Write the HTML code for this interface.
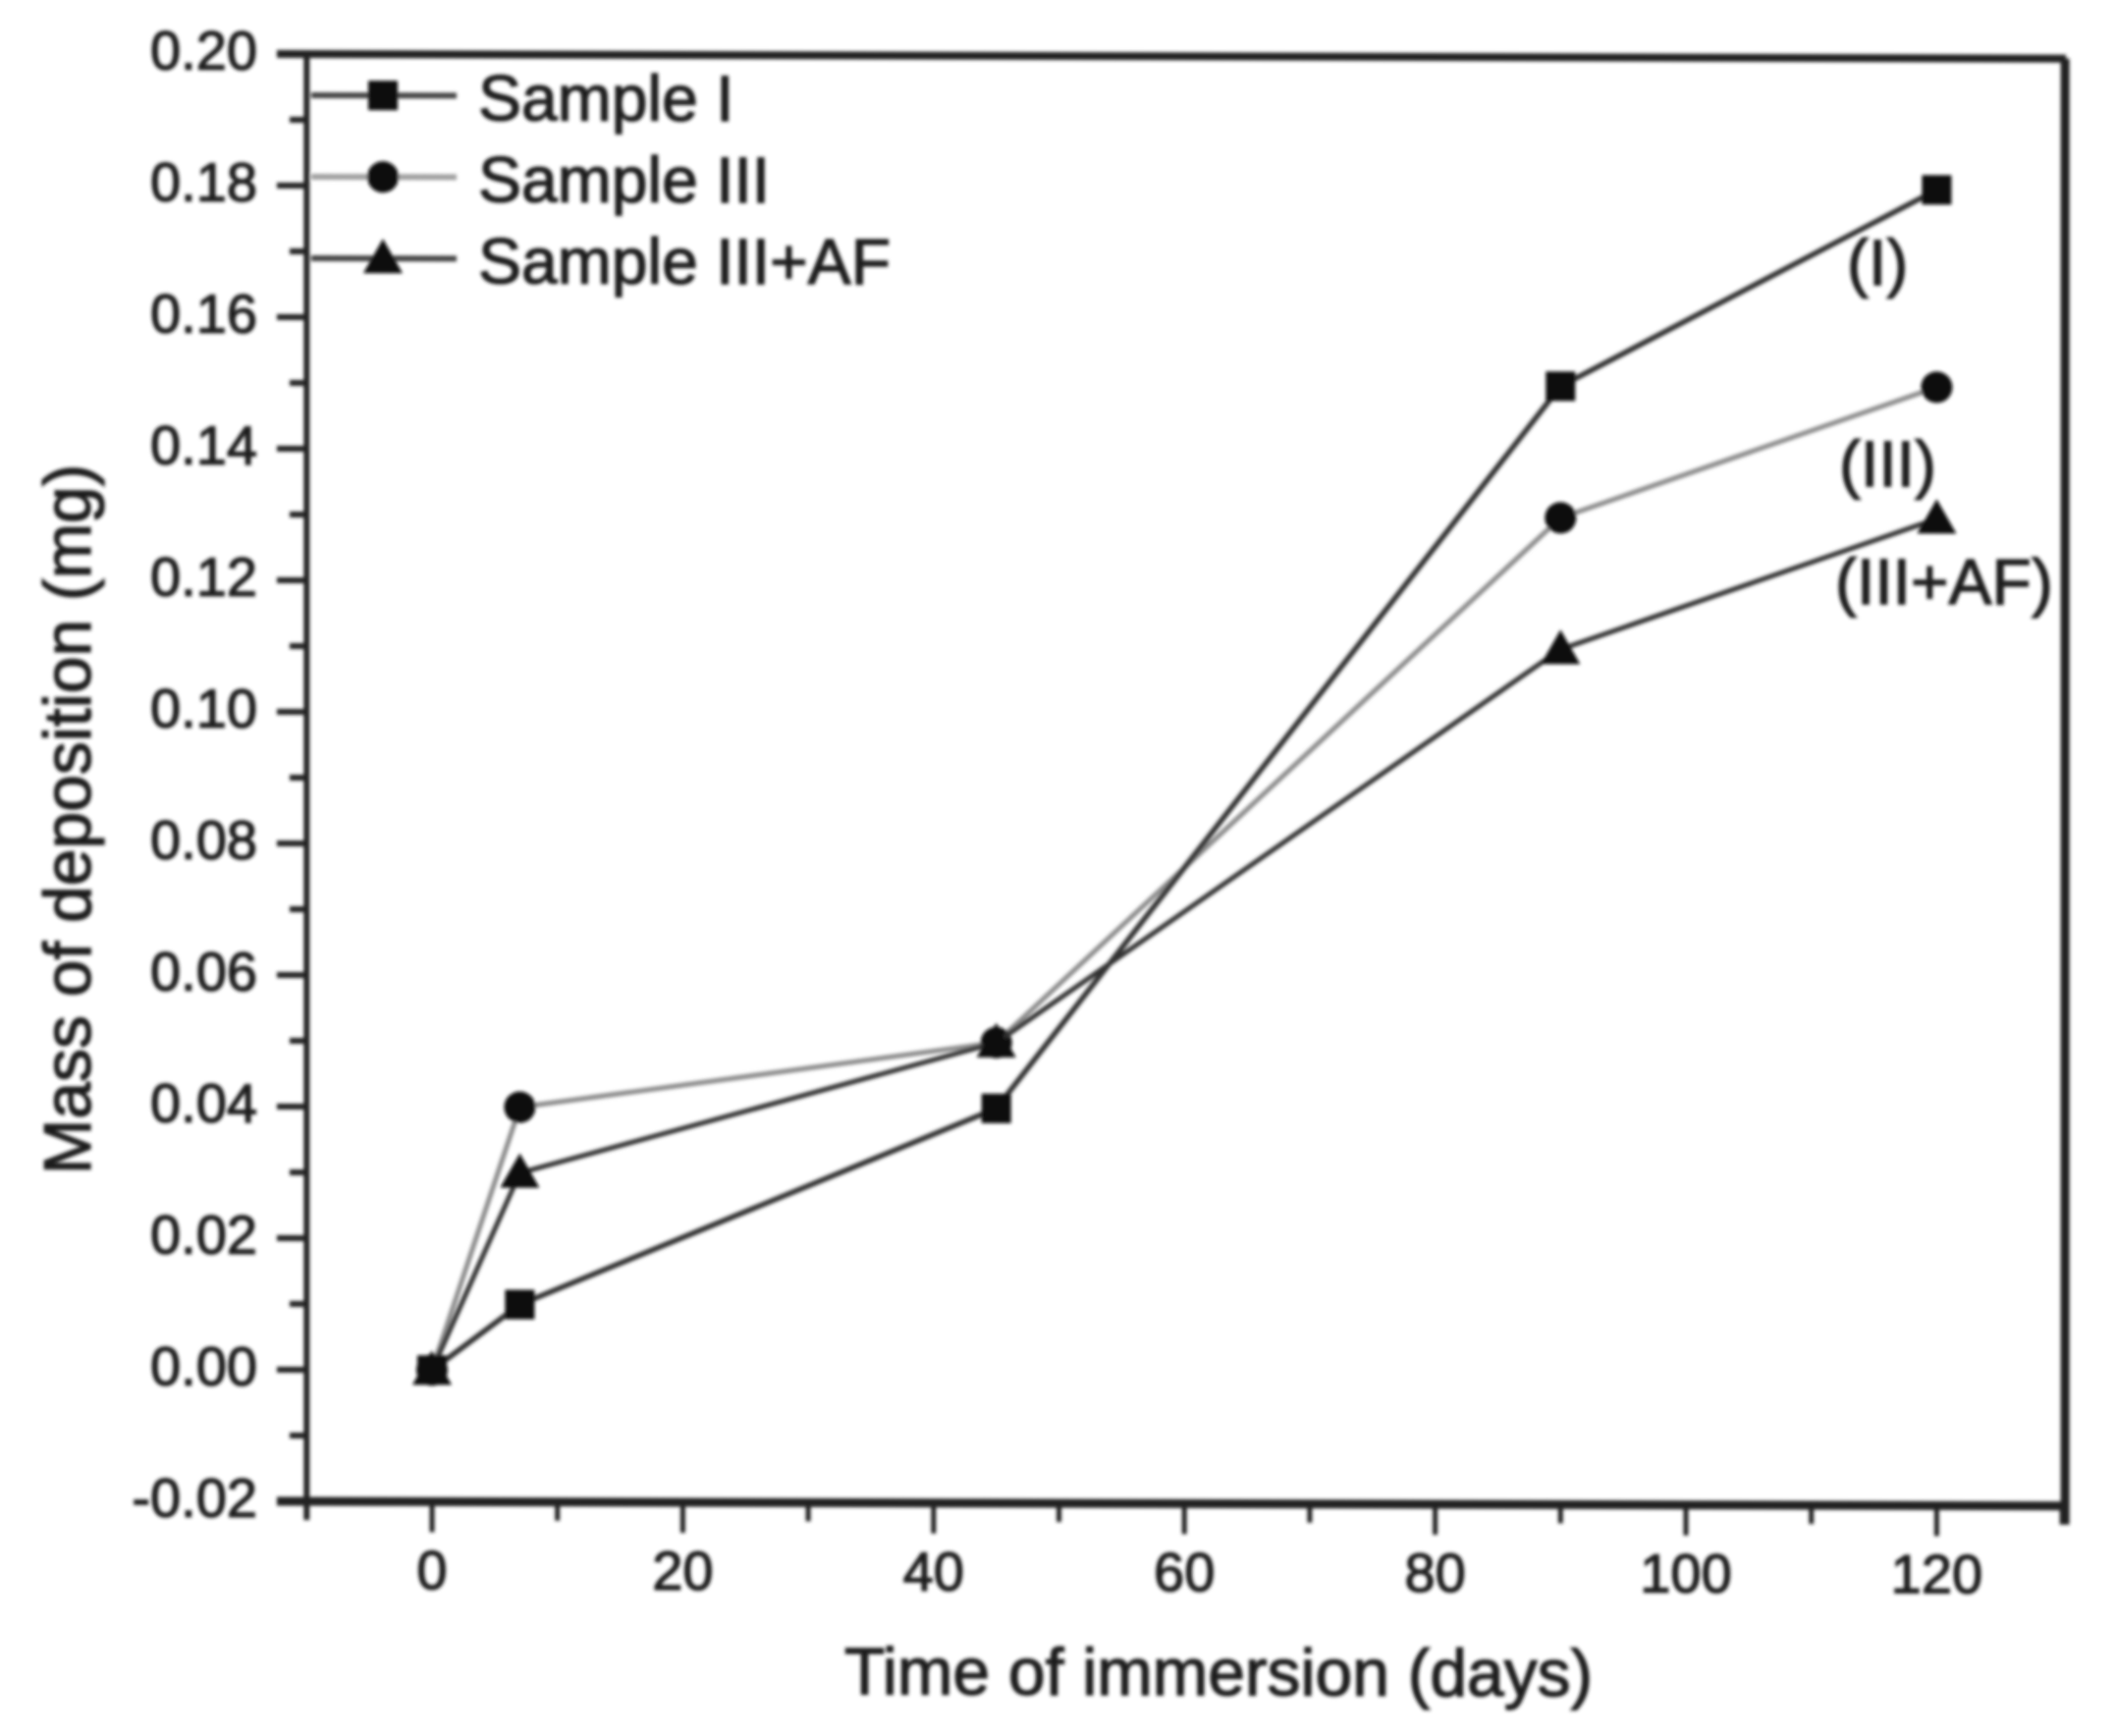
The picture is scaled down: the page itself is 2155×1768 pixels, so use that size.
<!DOCTYPE html>
<html>
<head>
<meta charset="utf-8">
<title>Mass of deposition vs time of immersion</title>
<style>
html,body{margin:0;padding:0;background:#fff;}
svg{display:block;}
text{font-family:"Liberation Sans",Arial,sans-serif;fill:#1a1a1a;stroke:#1a1a1a;stroke-width:1.3px;}
</style>
</head>
<body>
<svg id="chart" xmlns="http://www.w3.org/2000/svg" width="2155" height="1768" viewBox="0 0 2155 1768">
  <defs>
    <filter id="soft" x="-5%" y="-5%" width="110%" height="110%" filterUnits="objectBoundingBox">
      <feGaussianBlur stdDeviation="1.8"/>
    </filter>
  </defs>
  <rect width="2155" height="1768" fill="#fff"/>
  <g id="plot" filter="url(#soft)" transform="translate(0,-0.8) skewY(0.15)"></g>
</svg>
<script>
const days = [0, 7, 45, 90, 120];
const sampleI = [0, 0.01, 0.04, 0.15, 0.18];
const sampleIII = [0, 0.04, 0.05, 0.13, 0.15];
const sampleIIIAF = [0, 0.03, 0.05, 0.11, 0.13];
const xTickValues = [0, 20, 40, 60, 80, 100, 120];
const xMinorValues = [-10, 10, 30, 50, 70, 90, 110, 130];
const yTickValues = [-0.02, 0, 0.02, 0.04, 0.06, 0.08, 0.10, 0.12, 0.14, 0.16, 0.18, 0.20];
const yMinorValues = [-0.01, 0.01, 0.03, 0.05, 0.07, 0.09, 0.11, 0.13, 0.15, 0.17, 0.19];

const NS = 'http://www.w3.org/2000/svg';
const plot = document.getElementById('plot');
const xAxis = v => 440 + 12.77 * v;
const yAxis = v => 1395 - 6700 * v;

function make(tag, attrs, parent) {
  const el = document.createElementNS(NS, tag);
  for (const k in attrs) el.setAttribute(k, attrs[k]);
  (parent || plot).appendChild(el);
  return el;
}
function marker(kind, cx, cy, parent) {
  if (kind === 'square') return make('rect', {x: cx - 15, y: cy - 15, width: 30, height: 30, fill: '#0c0c0c'}, parent);
  if (kind === 'circle') return make('circle', {cx: cx, cy: cy, r: 16, fill: '#0c0c0c'}, parent);
  return make('path', {d: `M${cx} ${cy - 20}L${cx + 20} ${cy + 15}L${cx - 20} ${cy + 15}Z`, fill: '#0c0c0c'}, parent);
}

/* axis frame */
const left = xAxis(-10), right = xAxis(130), top_ = yAxis(0.20), bottom = yAxis(-0.02);
const frame = make('g', {fill: 'none', stroke: '#222', 'stroke-width': 6});


make('line', {x1: 282, y1: top_, x2: right + 4, y2: top_, 'stroke-width': 8}, frame);
make('line', {x1: 282, y1: bottom, x2: right + 4, y2: bottom, 'stroke-width': 9}, frame);
make('line', {x1: left, y1: top_, x2: left, y2: 1548, 'stroke-width': 6}, frame);
make('line', {x1: right + 3, y1: top_, x2: right + 3, y2: 1548, 'stroke-width': 9}, frame);

/* y axis */
yTickValues.forEach(v => {
  const tick = make('line', {x1: 282, y1: yAxis(v), x2: left, y2: yAxis(v), stroke: '#222', 'stroke-width': 6});
  
  
  const label = make('text', {x: 262, y: yAxis(v) + 16, 'text-anchor': 'end', 'font-size': 56});
  
  
  label.textContent = v.toFixed(2);
});
yMinorValues.forEach(v => {
  const tick = make('line', {x1: 295, y1: yAxis(v), x2: left, y2: yAxis(v), stroke: '#222', 'stroke-width': 6});
  
  
});

/* x axis */
xTickValues.forEach(v => {
  const tick = make('line', {x1: xAxis(v), y1: bottom, x2: xAxis(v), y2: 1560, stroke: '#222', 'stroke-width': 5});
  
  
  const label = make('text', {x: xAxis(v), y: 1618, 'text-anchor': 'middle', 'font-size': 56});
  
  
  label.textContent = String(v);
});
xMinorValues.forEach(v => {
  const tick = make('line', {x1: xAxis(v), y1: bottom, x2: xAxis(v), y2: 1548, stroke: '#222', 'stroke-width': 5});
  
  
});

/* series */
function drawSeries(values, kind, stroke, width, name) {
  const g = make('g', {});
  
  
  const pts = values.map((v, i) => xAxis(days[i]) + ',' + yAxis(v)).join(' ');
  make('polyline', {points: pts, fill: 'none', stroke: stroke, 'stroke-width': width}, g);
  values.forEach((v, i) => marker(kind, xAxis(days[i]), yAxis(v), g));
}
drawSeries(sampleIII, 'circle', '#8c8c8c', 5, 'series-sample-iii');
drawSeries(sampleIIIAF, 'triangle', '#333', 5, 'series-sample-iii-af');
drawSeries(sampleI, 'square', '#333', 5.5, 'series-sample-i');

/* legend */
const legendKinds = ['square', 'circle', 'triangle'];
const legendStrokes = ['#444', '#a0a0a0', '#444'];
const legendTexts = ['Sample I', 'Sample III', 'Sample III+AF'];
const legendRows = [97, 180, 263];
const legend = make('g', {});


legendTexts.forEach((t, i) => {
  const row = make('g', {}, legend);
  
  
  make('line', {x1: 317, y1: legendRows[i], x2: 465, y2: legendRows[i], stroke: legendStrokes[i], 'stroke-width': 6}, row);
  marker(legendKinds[i], 390, legendRows[i], row);
  const label = make('text', {x: 487, y: legendRows[i] + 25, 'font-size': 66}, row);
  label.textContent = t;
});
</script>
<script>
(function () {
  const NS2 = 'http://www.w3.org/2000/svg';
  const group = document.getElementById('plot');
  function addText(name, txt, attrs) {
    const t = document.createElementNS(NS2, 'text');
    for (const k in attrs) t.setAttribute(k, attrs[k]);
    
    
    t.textContent = txt;
    group.appendChild(t);
  }
  addText('annotation-i', '(I)', {x: 1881, y: 286, 'font-size': 66});
  addText('annotation-iii', '(III)', {x: 1873, y: 491, 'font-size': 66});
  addText('annotation-iii-af', '(III+AF)', {x: 1869, y: 611, 'font-size': 66});
  addText('x-axis-title', 'Time of immersion (days)', {x: 1241, y: 1724, 'font-size': 67.8, 'text-anchor': 'middle'});
  addText('y-axis-title', 'Mass of deposition (mg)', {x: 0, y: 0, 'font-size': 67.8, 'text-anchor': 'middle', transform: 'translate(92,835) rotate(-90)'});
})();
</script>
</body>
</html>
